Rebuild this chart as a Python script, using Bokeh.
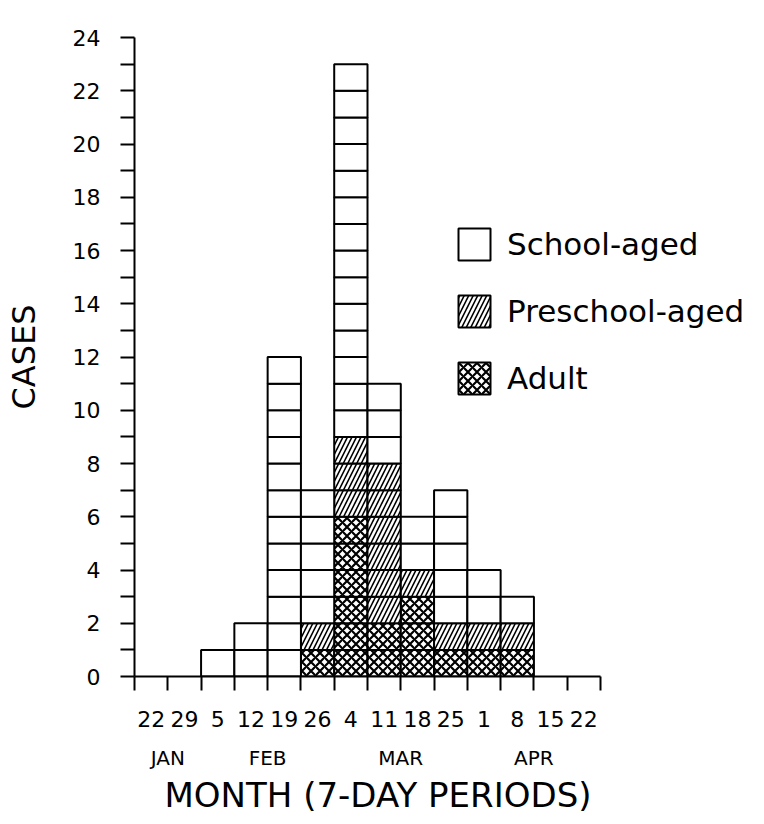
from bokeh.plotting import figure
from bokeh.models import Range1d, LinearAxis, FixedTicker, Legend, LegendItem, ColumnDataSource, Title
from bokeh.embed import file_html
from bokeh.resources import INLINE

# ---- data (7-day periods, Jan 22 – Apr 22) ----
weeks = ["22", "29", "5", "12", "19", "26", "4", "11", "18", "25", "1", "8", "15", "22"]
months = ["JAN", "FEB", "MAR", "APR"]
month_weeks = [2, 4, 4, 4]
school = [0, 0, 1, 2, 12, 5, 14, 3, 2, 5, 2, 1, 0, 0]
preschool = [0, 0, 0, 0, 0, 1, 3, 6, 1, 1, 1, 1, 0, 0]
adult = [0, 0, 0, 0, 0, 1, 6, 2, 3, 1, 1, 1, 0, 0]
y_ticks = list(range(0, 25, 2))

FONT = "DejaVu Sans"
n = len(weeks)

# plotting area: the week axis covers 466px, extra room on the right for the legend
AXIS_PX = 466
FRAME_PX = 614


def cells(below, counts):
    xs, ys = [], []
    for i, (b, c) in enumerate(zip(below, counts)):
        for k in range(c):
            xs.append(i + 0.5)
            ys.append(b + k + 0.5)
    return ColumnDataSource(dict(x=xs, y=ys))


zeros = [0] * n
pre_base = list(adult)
school_base = [a + q for a, q in zip(adult, preschool)]

p = figure(frame_width=FRAME_PX, frame_height=639,
           min_border_left=134, min_border_right=0,
           min_border_top=37, min_border_bottom=132,
           x_range=Range1d(0, n * FRAME_PX / AXIS_PX), y_range=Range1d(0, 24),
           output_backend="svg", toolbar_location=None,
           x_axis_location=None, y_axis_location=None)
p.outline_line_color = None
p.xgrid.visible = False
p.ygrid.visible = False
p.background_fill_color = "white"
p.border_fill_color = "white"

common = dict(width=1, height=1, fill_color="white", line_color="black", line_width=2)
r_adult = p.rect("x", "y", source=cells(zeros, adult), hatch_pattern="x",
                 hatch_scale=9, hatch_weight=2.2, hatch_color="black", **common)
r_pre = p.rect("x", "y", source=cells(pre_base, preschool), hatch_pattern="/",
               hatch_scale=9, hatch_weight=1.6, hatch_color="black", **common)
r_school = p.rect("x", "y", source=cells(school_base, school), **common)

# ---- y axis ----
yax = LinearAxis(ticker=FixedTicker(ticks=y_ticks, minor_ticks=list(range(1, 24, 2))),
                 axis_label="CASES")
yax.axis_line_width = 2
yax.major_tick_in = 0
yax.major_tick_out = 14
yax.minor_tick_in = 0
yax.minor_tick_out = 14
yax.major_tick_line_width = 2
yax.minor_tick_line_width = 2
yax.major_label_standoff = 20
yax.major_label_text_font = FONT
yax.major_label_text_font_size = "22px"
yax.major_label_text_color = "black"
yax.axis_label_text_font = FONT
yax.axis_label_text_font_size = "32px"
yax.axis_label_text_font_style = "normal"
yax.axis_label_text_color = "black"
yax.axis_label_standoff = 27
p.add_layout(yax, "left")

# ---- x axis (weeks) ----
xax = LinearAxis(ticker=FixedTicker(ticks=[i + 0.5 for i in range(n)],
                                    minor_ticks=list(range(n + 1))),
                 bounds=(0, n))
xax.major_label_overrides = {i + 0.5: w for i, w in enumerate(weeks)}
xax.axis_line_width = 2
xax.major_tick_in = 0
xax.major_tick_out = 0
xax.minor_tick_in = 0
xax.minor_tick_out = 14
xax.minor_tick_line_width = 2
xax.major_label_standoff = 20
xax.major_label_text_font = FONT
xax.major_label_text_font_size = "22px"
xax.major_label_text_color = "black"
p.add_layout(xax, "below")

# ---- month axis ----
centers, start = [], 0
for mw in month_weeks:
    centers.append(start + mw / 2)
    start += mw
max_ = LinearAxis(ticker=FixedTicker(ticks=centers, minor_ticks=[]), bounds=(0, n))
max_.major_label_overrides = {c: m for c, m in zip(centers, months)}
max_.axis_line_color = None
max_.major_tick_line_color = None
max_.minor_tick_line_color = None
max_.major_label_standoff = 10
max_.major_label_text_font = FONT
max_.major_label_text_font_size = "20px"
max_.major_label_text_color = "black"
p.add_layout(max_, "below")

xtitle = Title(text="MONTH (7-DAY PERIODS)", align="left", offset=30,
               text_font=FONT, text_font_size="34px", text_font_style="normal",
               text_color="black", standoff=0)
p.add_layout(xtitle, "below")

# ---- legend ----
legend = Legend(items=[LegendItem(label="School-aged", renderers=[r_school]),
                       LegendItem(label="Preschool-aged", renderers=[r_pre]),
                       LegendItem(label="Adult", renderers=[r_adult])],
                location=(320, 278), orientation="vertical")
legend.glyph_width = 40
legend.glyph_height = 40
legend.label_height = 40
legend.label_standoff = 13
legend.spacing = 27
legend.padding = 0
legend.margin = 0
legend.border_line_color = None
legend.background_fill_alpha = 0
legend.label_text_font = FONT
legend.label_text_font_size = "31px"
legend.label_text_color = "black"
p.add_layout(legend, "center")

open("out.html", "w").write(file_html(p, INLINE))
